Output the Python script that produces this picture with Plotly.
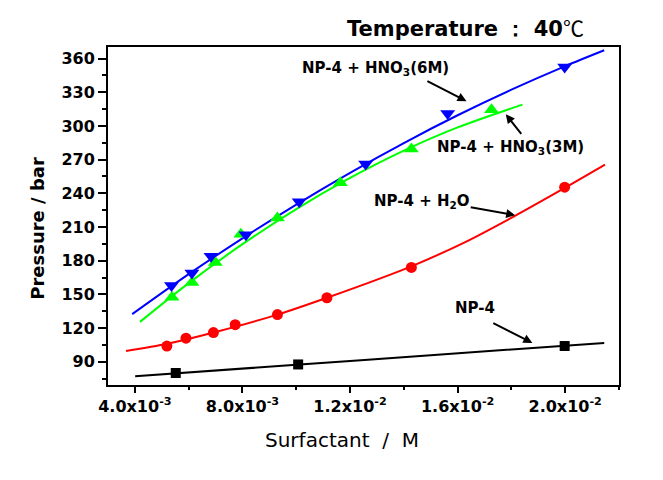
import plotly.graph_objects as go

# ---- measured data points (marker positions) ----
np4_x = [0.00552, 0.01007, 0.01998]
np4_y = [80.0, 87.6, 104.0]

h2o_x = [0.00519, 0.00590, 0.00692, 0.00773, 0.00930, 0.01114, 0.01428, 0.01998]
h2o_y = [104.0, 111.0, 116.0, 123.0, 132.0, 147.0, 174.0, 245.5]

hno3_3m_x = [0.00538, 0.00612, 0.00699, 0.00794, 0.00930, 0.01164, 0.01428, 0.01726]
hno3_3m_y = [147.5, 160.5, 178.5, 203.5, 218.0, 249.5, 279.5, 314.5]

hno3_6m_x = [0.00536, 0.00612, 0.00683, 0.00813, 0.01011, 0.01258, 0.01563, 0.01998]
hno3_6m_y = [158.0, 169.0, 184.0, 203.0, 232.5, 266.0, 311.0, 352.5]

# ---- fitted curves ----
np4_fit_x = [0.00401, 0.0100, 0.0150, 0.02145]
np4_fit_y = [77.2, 87.3, 95.8, 106.8]

h2o_fit_x = [0.00367, 0.0052, 0.0070, 0.0093, 0.01114, 0.01428, 0.01636, 0.0181, 0.0200, 0.02148]
h2o_fit_y = [99.5, 106.0, 116.5, 132.0, 147.0, 175.0, 197.5, 219.5, 245.0, 265.5]

hno3_3m_fit_x = [0.00419, 0.006, 0.008, 0.010, 0.012, 0.014, 0.016, 0.01841]
hno3_3m_fit_y = [125.5, 160.0, 194.7, 226.0, 253.7, 278.0, 298.7, 319.0]

hno3_6m_fit_x = [0.0039, 0.006, 0.008, 0.010, 0.012, 0.014, 0.016, 0.018, 0.020, 0.02145]
hno3_6m_fit_y = [132.4, 168.0, 199.9, 230.0, 258.3, 284.8, 309.5, 332.3, 353.3, 367.4]

# ---- tick labels ----
x_tickvals = [0.004, 0.008, 0.012, 0.016, 0.020]
x_ticktext = ["4.0x10<sup>-3</sup>", "8.0x10<sup>-3</sup>", "1.2x10<sup>-2</sup>",
              "1.6x10<sup>-2</sup>", "2.0x10<sup>-2</sup>"]
y_tickvals = [90, 120, 150, 180, 210, 240, 270, 300, 330, 360]
y_ticktext = [str(v) for v in y_tickvals]

FONT = "DejaVu Sans"

series = [
    (np4_fit_x, np4_fit_y, np4_x, np4_y, "black", "square", 10),
    (h2o_fit_x, h2o_fit_y, h2o_x, h2o_y, "#ff0000", "circle", 11),
    (hno3_3m_fit_x, hno3_3m_fit_y, hno3_3m_x, hno3_3m_y, "#00ff00", "triangle-up", 13),
    (hno3_6m_fit_x, hno3_6m_fit_y, hno3_6m_x, hno3_6m_y, "#0000ff", "triangle-down", 13),
]

fig = go.Figure()
for fx, fy, px, py, col, sym, sz in series:
    fig.add_trace(go.Scatter(x=fx, y=fy, mode="lines",
                             line=dict(color=col, width=2, shape="spline", smoothing=0.8),
                             showlegend=False, hoverinfo="skip"))
for fx, fy, px, py, col, sym, sz in series:
    fig.add_trace(go.Scatter(x=px, y=py, mode="markers",
                             marker=dict(color=col, symbol=sym, size=sz, line=dict(width=0)),
                             showlegend=False))

axis_common = dict(
    showline=True, linecolor="black", linewidth=2, mirror=True,
    ticks="outside", tickcolor="black", tickwidth=1.5,
    showgrid=False, zeroline=False,
    tickfont=dict(family=FONT, size=16, color="black", weight="bold"),
)

fig.update_xaxes(range=[0.003, 0.022], tickmode="array", tickvals=x_tickvals,
                 ticktext=x_ticktext, ticklen=6,
                 minor=dict(ticks="outside", dtick=0.002, tick0=0, ticklen=3,
                            tickcolor="black", tickwidth=1.5),
                 **axis_common)
fig.update_yaxes(range=[69.3, 370.3], tickmode="array", tickvals=y_tickvals,
                 ticktext=y_ticktext, ticklen=8,
                 minor=dict(ticks="outside", dtick=15, tick0=0, ticklen=4,
                            tickcolor="black", tickwidth=1.5),
                 **axis_common)

ann_font = dict(family=FONT, size=15, color="black", weight="bold")
labels = [
    ("NP-4 + HNO<sub>3</sub>(6M)", 0.01293, 351.1),
    ("NP-4 + HNO<sub>3</sub>(3M)", 0.01795, 280.8),
    ("NP-4 + H<sub>2</sub>O", 0.01468, 232.3),
    ("NP-4", 0.01665, 137.7),
]
for txt, x, y in labels:
    fig.add_annotation(x=x, y=y, xref="x", yref="y", text=txt, showarrow=False,
                       font=ann_font, xanchor="center", yanchor="middle")

arrows = [
    (0.01482, 340.7, 0.01633, 322.0),
    (0.01841, 291.7, 0.01779, 310.4),
    (0.01643, 227.9, 0.01814, 220.5),
    (0.01727, 125.0, 0.01878, 106.8),
]
for ax_, ay_, x, y in arrows:
    fig.add_annotation(x=x, y=y, ax=ax_, ay=ay_, xref="x", yref="y", axref="x", ayref="y",
                       text="", showarrow=True, arrowhead=2, arrowsize=0.9,
                       arrowwidth=2, arrowcolor="black", standoff=0, startstandoff=0)

# title
fig.add_annotation(xref="paper", yref="paper", x=0.700, y=1.058,
                   text="Temperature ： 40<span style='font-weight:normal;font-family:Noto Sans CJK SC'>℃</span>",
                   showarrow=False, xanchor="center", yanchor="middle",
                   font=dict(family=FONT, size=21, color="black", weight="bold"))
# axis titles
fig.add_annotation(xref="paper", yref="paper", x=-0.1386, y=0.4626,
                   text="Pressure / bar", textangle=-90, showarrow=False,
                   xanchor="center", yanchor="middle",
                   font=dict(family=FONT, size=18, color="black", weight="bold"))
fig.add_annotation(xref="paper", yref="paper", x=0.4586, y=-0.164,
                   text="Surfactant\u00a0\u00a0/\u00a0\u00a0M", showarrow=False,
                   xanchor="center", yanchor="middle",
                   font=dict(family=FONT, size=20, color="black"))

# page body has an 8px default margin, so margins are offset accordingly
fig.update_layout(
    width=663, height=480,
    margin=dict(l=100, r=52, t=39, b=103),
    paper_bgcolor="white", plot_bgcolor="white",
    showlegend=False,
)

fig.write_html("out.html")
